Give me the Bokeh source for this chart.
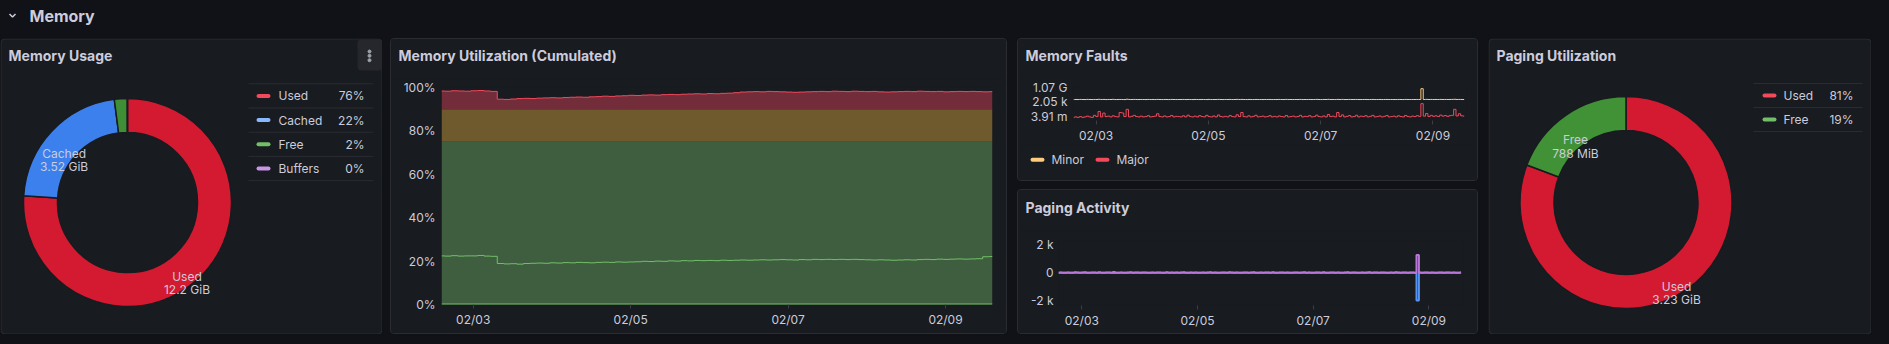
import numpy as np
import pandas as pd
from bokeh.plotting import figure
from bokeh.models import (Range1d, FixedTicker, DaysTicker, DatetimeTickFormatter,
                          PrintfTickFormatter, Spacer)
from bokeh.layouts import row, column
from bokeh.core.properties import value
from bokeh.embed import file_html
from bokeh.resources import INLINE

# ------------------------------------------------------------------ data
section_title = "Memory"

usage_title = "Memory Usage"
usage_names = ["Used", "Cached", "Free", "Buffers"]
usage_gib = [12.2, 3.52, 0.32, 0.005]

paging_util_title = "Paging Utilization"
paging_names = ["Used", "Free"]
paging_gib = [3.23, 0.7695]

time_start = "2025-02-02 14:20"
time_end = "2025-02-09 14:20"

util_title = "Memory Utilization (Cumulated)"
util_thresholds = [0, 75, 90, 100]
util_ticks = [0, 20, 40, 60, 80, 100]
buffers_pct = [
    0.1, 0.1, 0.1, 0.1, 0.1, 0.1, 0.1, 0.1, 0.1, 0.1,
    0.1, 0.1, 0.1, 0.1, 0.1, 0.1, 0.1, 0.1, 0.1, 0.1,
    0.1, 0.1, 0.1, 0.1, 0.1, 0.1, 0.1, 0.1, 0.1, 0.1,
    0.1, 0.1, 0.1, 0.1, 0.1, 0.1, 0.1, 0.1, 0.1, 0.1,
    0.1, 0.1, 0.1, 0.1, 0.1, 0.1, 0.1, 0.1, 0.1, 0.1,
    0.1, 0.1, 0.1, 0.1, 0.1, 0.1, 0.1, 0.1, 0.1, 0.1,
    0.1, 0.1, 0.1, 0.1, 0.1, 0.1, 0.1, 0.1, 0.1, 0.1,
    0.1, 0.1, 0.1, 0.1, 0.1, 0.1, 0.1, 0.1, 0.1, 0.1,
    0.1, 0.1, 0.1, 0.1, 0.1,
]
cached_pct = [
    22.4, 22.3, 22.5, 22.3, 22.4, 22.4, 22.6, 22.3, 22.2, 18.9,
    18.7, 18.8, 18.6, 18.9, 19.0, 19.1, 19.0, 19.2, 19.1, 19.3,
    19.2, 19.4, 19.3, 19.2, 19.4, 19.5, 19.4, 19.6, 19.5, 19.6,
    19.7, 19.9, 19.8, 20.0, 19.9, 20.1, 20.0, 20.2, 20.1, 20.3,
    20.2, 20.3, 20.2, 20.4, 20.3, 20.4, 20.5, 20.4, 20.5, 20.6,
    20.5, 20.6, 20.7, 20.6, 20.5, 20.7, 20.6, 20.8, 20.7, 20.8,
    20.7, 20.8, 20.7, 20.8, 20.7, 20.6, 20.5, 20.6, 20.5, 20.4,
    20.5, 20.6, 20.5, 20.7, 20.8, 20.7, 20.9, 20.8, 20.9, 21.0,
    20.9, 21.0, 21.1, 22.0, 22.1,
]
used_stacked_pct = [
    98.4, 98.3, 98.5, 98.4, 98.3, 98.5, 98.6, 98.4, 98.2, 94.6,
    94.5, 94.7, 94.9, 95.0, 94.9, 95.1, 95.2, 95.3, 95.2, 95.4,
    95.5, 95.6, 95.5, 95.7, 95.8, 96.0, 95.9, 96.1, 96.2, 96.4,
    96.3, 96.5, 96.6, 96.5, 96.7, 96.8, 96.7, 96.9, 97.0, 97.1,
    97.0, 97.2, 97.1, 97.3, 97.4, 97.6, 97.9, 98.0, 98.1, 98.0,
    98.2, 98.1, 98.0, 97.9, 97.8, 97.9, 98.0, 98.1, 98.2, 98.1,
    98.3, 98.2, 98.1, 98.3, 98.2, 98.1, 98.2, 98.0, 97.9, 98.0,
    98.1, 98.2, 98.1, 98.3, 98.2, 98.1, 98.2, 98.0, 98.1, 98.2,
    98.1, 98.2, 98.1, 98.0, 98.1,
]

faults_title = "Memory Faults"
faults_names = ["Minor", "Major"]
minor_faults = [
    15200, 16800, 15900, 17400, 16100, 15600, 18200, 16500, 15800, 17100, 16300, 19400,
    16000, 17700, 15500, 16900, 16200, 18800, 15700, 16600, 17300, 16100, 15400, 21000,
    16400, 15900, 17600, 16200, 15800, 16900, 16300, 15600, 17200, 16000, 16700, 15900,
    17800, 16300, 15700, 16800, 16100, 15500, 17400, 16200, 15900, 16600, 16000, 17100,
    15800, 16900, 16200, 15600, 17300, 16100, 15900, 16700, 16300, 15700, 17500, 16000,
    16400, 15800, 17900, 16200, 15600, 16800, 16100, 17200, 15900, 16300, 18400, 16000,
    17600, 16200, 15700, 16900, 16000, 15800, 17300, 16100, 16500, 15900, 16800, 16200,
    17000, 15800, 16400, 16000, 17200, 16300, 15700, 17800, 16100, 16600, 15900, 16300,
    16100, 17400, 15900, 16500, 16200, 17000, 15800, 16300, 18100, 16000, 15700, 16900,
    16200, 18600, 16000, 16700, 15900, 17600, 16300, 17900, 15800, 16400, 17200, 16100,
    16500, 17300, 15900, 16600, 16200, 17100, 15800, 16400, 17500, 16000, 16300, 16900,
    15900, 16400, 17200, 16100, 16600, 16000, 15800, 17000, 16300, 15900, 17400, 16200,
    16000, 16700, 16300, 17100, 16400, 250000000, 16800, 18200, 16300, 17300, 16500, 16900,
    16400, 17800, 16600, 17200, 16500, 17000, 17600, 19800, 16900, 17400, 16800, 16600,
]
major_faults = [
    0.002, 0.003, 0.002, 0.004, 0.002, 0.003, 0.006, 0.003, 0.002, 0.012, 0.004, 0.38,
    0.003, 0.09, 0.004, 0.006, 0.003, 0.008, 0.004, 0.003, 0.15, 0.10, 0.004, 2.5,
    0.003, 0.005, 0.012, 0.004, 0.003, 0.006, 0.003, 0.004, 0.009, 0.003, 0.004, 0.006,
    0.05, 0.004, 0.003, 0.007, 0.003, 0.004, 0.011, 0.003, 0.005, 0.004, 0.003, 0.008,
    0.003, 0.014, 0.004, 0.003, 0.006, 0.003, 0.009, 0.004, 0.003, 0.012, 0.004, 0.003,
    0.007, 0.003, 0.016, 0.004, 0.003, 0.005, 0.003, 0.010, 0.004, 0.003, 0.020, 0.004,
    0.15, 0.004, 0.003, 0.008, 0.003, 0.005, 0.013, 0.003, 0.004, 0.006, 0.003, 0.004,
    0.009, 0.003, 0.005, 0.003, 0.007, 0.004, 0.003, 0.011, 0.003, 0.004, 0.006, 0.003,
    0.004, 0.012, 0.003, 0.005, 0.004, 0.009, 0.003, 0.004, 0.014, 0.004, 0.003, 0.007,
    0.003, 0.025, 0.004, 0.006, 0.003, 0.15, 0.004, 0.018, 0.003, 0.005, 0.010, 0.003,
    0.004, 0.013, 0.003, 0.006, 0.004, 0.009, 0.003, 0.005, 0.012, 0.003, 0.004, 0.007,
    0.003, 0.005, 0.010, 0.003, 0.004, 0.006, 0.003, 0.008, 0.004, 0.003, 0.011, 0.004,
    0.003, 0.006, 0.004, 0.009, 0.005, 400.0, 0.006, 0.06, 0.004, 0.012, 0.005, 0.008,
    0.004, 0.015, 0.006, 0.010, 0.005, 0.009, 0.012, 2.6, 0.007, 0.05, 0.008, 0.006,
]
fault_ticks = [2 ** -8, 2 ** 11, 2 ** 30]
fault_tick_labels = ["3.91 m", "2.05 k", "1.07 G"]

activity_title = "Paging Activity"
page_in = [
    0, 12, 4, 0, 20, 6, 0, 35, 8, 0, 15, 42,
    5, 0, 18, 7, 0, 26, 3, 0, 14, 9, 0, 55,
    6, 0, 22, 4, 0, 11, 30, 0, 7, 16, 0, 9,
    24, 0, 5, 13, 0, 8, 19, 0, 6, 28, 0, 10,
    4, 17, 0, 9, 33, 0, 6, 12, 0, 21, 5, 0,
    14, 0, 8, 26, 0, 11, 4, 0, 18, 7, 0, 31,
    9, 0, 15, 5, 0, 22, 8, 0, 12, 40, 0, 6,
    19, 0, 7, 13, 0, 27, 5, 0, 16, 9, 0, 24,
    6, 0, 20, 11, 0, 8, 34, 0, 13, 5, 0, 17,
    10, 0, 29, 6, 0, 15, 9, 0, 22, 4, 0, 12,
    25, 0, 8, 14, 0, 6, 19, 0, 11, 30, 0, 7,
    16, 0, 9, 21, 0, 5, 13, 0, 27, 8, 0, 18,
    7, 0, 12, 24, 0, 1270, 15, 0, 9, 20, 0, 11,
    6, 0, 17, 10, 0, 23, 8, 0, 14, 5, 0, 19,
]
page_out = [
    0, 0, 3, 0, 0, 0, 5, 0, 0, 0, 0, 8,
    0, 0, 0, 4, 0, 0, 0, 0, 6, 0, 0, 12,
    0, 0, 0, 0, 3, 0, 0, 0, 0, 5, 0, 0,
    7, 0, 0, 0, 0, 0, 4, 0, 0, 0, 0, 0,
    0, 5, 0, 0, 0, 9, 0, 0, 0, 0, 3, 0,
    0, 0, 0, 6, 0, 0, 0, 0, 0, 4, 0, 0,
    0, 0, 5, 0, 0, 0, 0, 7, 0, 0, 0, 0,
    3, 0, 0, 0, 0, 8, 0, 0, 0, 0, 0, 4,
    0, 0, 0, 5, 0, 0, 0, 0, 6, 0, 0, 0,
    0, 4, 0, 0, 0, 0, 0, 9, 0, 0, 0, 0,
    0, 0, 3, 0, 0, 0, 6, 0, 0, 0, 0, 5,
    0, 0, 0, 0, 7, 0, 0, 0, 0, 4, 0, 0,
    0, 0, 0, 0, 5, 2000, 0, 0, 0, 0, 6, 0,
    0, 0, 4, 0, 0, 0, 0, 0, 8, 0, 0, 0,
]
activity_ticks = [-2000, 0, 2000]
activity_tick_labels = ["-2 k", "0", "2 k"]

# ------------------------------------------------------------------ style
PAGE_BG = "#111217"
PANEL_BG = "#181b1f"
BORDER = "#2a2c32"
TEXT = "#ccccdc"
TICK = "#3a3d44"
FONT = "Inter"

usage_slice_colors = ["#D41A31", "#3C80EE", "#3F8F37", "#B877D9"]
usage_legend_colors = ["#F2495C", "#8AB8FF", "#73BF69", "#CA95E5"]
paging_slice_colors = ["#D41A31", "#419137"]
paging_legend_colors = ["#F2495C", "#73BF69"]
band_colors = ["#3e5e3f", "#6e5a2c", "#722c3a"]
fault_colors = ["#FFCB7D", "#F2495C"]

times_2h = pd.date_range(time_start, periods=len(cached_pct), freq="2h")
times_1h = pd.date_range(time_start, periods=len(major_faults), freq="h")


def fmt_size(gib):
    if gib >= 1:
        return f"{gib:.3g} GiB"
    return f"{gib * 1024:.3g} MiB"


def pixel_fig(w, h, bg=PAGE_BG):
    p = figure(width=w, height=h, x_range=Range1d(0, w), y_range=Range1d(h, 0),
               min_border=0, toolbar_location=None, output_backend="svg",
               x_axis_location=None, y_axis_location=None, frame_align=False)
    p.grid.visible = False
    p.outline_line_color = None
    p.background_fill_color = bg
    p.border_fill_color = bg
    return p


def txt(p, x, y, t, size="12px", align="left", bold=False):
    p.text(x=x, y=y, text=t, text_font=value(FONT), text_font_size=size,
           text_font_style="bold" if bold else "normal", text_color=TEXT,
           text_align=align, text_baseline="middle")


def pie_panel(title, names, vals, slice_cols, leg_cols, w, h, cx, cy, r_out, r_in, leg):
    p = pixel_fig(w, h)
    p.quad(left=[0.5], right=[w - 0.5], top=[0.5], bottom=[h - 0.5],
           fill_color=PANEL_BG, line_color=BORDER, line_width=1, border_radius=4)
    txt(p, [8], [17], [title], size="14px", bold=True)

    v = np.asarray(vals, dtype=float)
    frac = v / v.sum()
    cum = np.concatenate([[0.0], np.cumsum(frac)])
    start = np.pi / 2 - cum[1:] * 2 * np.pi
    end = np.pi / 2 - cum[:-1] * 2 * np.pi
    p.annular_wedge(x=cx, y=cy, inner_radius=r_in, outer_radius=r_out,
                    start_angle=start, end_angle=end, fill_color=slice_cols,
                    line_color=PANEL_BG, line_width=1.5)

    mid = (start + end) / 2
    rm = (r_in + r_out) / 2
    lx = cx + rm * np.cos(mid)
    ly = cy - rm * np.sin(mid)
    show = [i for i in range(len(v)) if frac[i] > 0.05]
    txt(p, lx[show], ly[show] + 10.5, [names[i] for i in show], align="center")
    txt(p, lx[show], ly[show] + 24, [fmt_size(v[i]) for i in show], align="center")

    x0, x1, top, rh, sw0, lab_x, pct_x = leg
    n = len(names)
    ys = top + rh * np.arange(n + 1)
    p.segment(x0=x0, x1=x1, y0=ys, y1=ys, line_color=BORDER, line_width=1)
    yc = top + rh * (np.arange(n) + 0.5)
    p.segment(x0=sw0 + 2, x1=sw0 + 12, y0=yc, y1=yc, line_color=leg_cols,
              line_width=4, line_cap="round")
    txt(p, lab_x, yc, names)
    txt(p, pct_x, yc, [f"{round(f * 100)}%" for f in frac], align="right")
    return p


def title_fig(w, h, title, yc):
    p = pixel_fig(w, h, PANEL_BG)
    txt(p, [7], [yc], [title], size="14px", bold=True)
    return p


def ts_chart(w, h, bl, br, bt, bb, y_range, y_type="linear", ylab_standoff=6):
    p = figure(width=w, height=h, x_axis_type="datetime", y_axis_type=y_type,
               x_range=Range1d(pd.Timestamp(time_start), pd.Timestamp(time_end)),
               y_range=y_range, min_border_left=bl, min_border_right=br,
               min_border_top=bt, min_border_bottom=bb,
               toolbar_location=None, output_backend="svg", frame_align=False)
    p.background_fill_color = PANEL_BG
    p.border_fill_color = PANEL_BG
    p.outline_line_color = None
    p.grid.visible = False
    for ax in p.xaxis:
        ax.ticker = DaysTicker(days=list(range(1, 32, 2)))
        ax.formatter = DatetimeTickFormatter(days="%m/%d")
        ax.axis_line_color = None
        ax.major_tick_line_color = TICK
        ax.major_tick_out = 4
        ax.major_tick_in = 0
        ax.minor_tick_line_color = None
        ax.major_label_standoff = 3
    for ax in p.yaxis:
        ax.axis_line_color = None
        ax.major_tick_line_color = None
        ax.major_tick_out = 0
        ax.major_tick_in = 0
        ax.minor_tick_line_color = None
        ax.major_label_standoff = ylab_standoff
    for ax in p.xaxis + p.yaxis:
        ax.major_label_text_font = FONT
        ax.major_label_text_font_size = "12px"
        ax.major_label_text_color = TEXT
    return p


PANEL_CSS = {"border": f"1px solid {BORDER}", "border-radius": "4px",
             "overflow": "hidden", "background-color": PANEL_BG}

# ------------------------------------------------------------------ header
hdr = pixel_fig(1889, 38)
hdr.line(x=[9, 12, 15], y=[13.5, 16.5, 13.5], line_color=TEXT, line_width=1.5)
txt(hdr, [29], [15], [section_title], size="16px", bold=True)

# ------------------------------------------------------------------ panel 1
p1 = pie_panel(usage_title, usage_names, usage_gib, usage_slice_colors, usage_legend_colors,
               382, 296, 127, 164, 104, 70, (248, 373, 45.3, 24.2, 256, 278, 364))
p1.quad(left=[357], right=[381.5], top=[1], bottom=[32], fill_color="#25272d",
        line_color=None, border_radius=4)
p1.scatter(x=[369, 369, 369], y=[13, 17.3, 21.7], size=3, color="#9fa1a8")

# ------------------------------------------------------------------ panel 2
c2 = ts_chart(615, 254, 50, 14, 8, 29, Range1d(0, 100), ylab_standoff=6)
top_line = np.asarray(used_stacked_pct)
for lo, hi, c in zip(util_thresholds[:-1], util_thresholds[1:], band_colors):
    c2.varea_step(x=times_2h, y1=lo, y2=np.clip(top_line, lo, hi), step_mode="center",
                  fill_color=c)
c2.step(times_2h, buffers_pct, mode="center", line_color="#73BF69", line_width=1.5)
c2.step(times_2h, cached_pct, mode="center", line_color="#73BF69", line_width=1)
c2.step(times_2h, used_stacked_pct, mode="center", line_color="#F2495C", line_width=1)
c2.yaxis[0].ticker = FixedTicker(ticks=util_ticks)
c2.yaxis[0].formatter = PrintfTickFormatter(format="%d%%")
panel2 = column(title_fig(615, 40, util_title, 16), c2, styles=PANEL_CSS)

# ------------------------------------------------------------------ panel 3
c3 = ts_chart(459, 68, 55, 11, 8, 23, Range1d(2 ** -13, 2 ** 32), y_type="log", ylab_standoff=6)
c3.step(times_1h, minor_faults, mode="center", line_color=fault_colors[0], line_width=1)
c3.step(times_1h, major_faults, mode="center", line_color=fault_colors[1], line_width=1)
c3.yaxis[0].ticker = FixedTicker(ticks=fault_ticks)
c3.yaxis[0].major_label_overrides = dict(zip(fault_ticks, fault_tick_labels))
leg3 = pixel_fig(459, 35, PANEL_BG)
item_x = 12 + 65 * np.arange(len(faults_names))
leg3.segment(x0=item_x + 2, x1=item_x + 12, y0=14.3, y1=14.3, line_color=fault_colors,
             line_width=4, line_cap="round")
txt(leg3, item_x + 21, [14.3] * len(faults_names), faults_names)
panel3 = column(title_fig(459, 38, faults_title, 16), c3, leg3, styles=PANEL_CSS)

# ------------------------------------------------------------------ panel 4
c4 = ts_chart(459, 103, 40, 14, 10, 28, Range1d(-2350, 2310), ylab_standoff=5)
c4.step(times_1h, -np.asarray(page_out), mode="center", line_color="#5794F2", line_width=2)
c4.step(times_1h, page_in, mode="center", line_color="#B877D9", line_width=2)
c4.yaxis[0].ticker = FixedTicker(ticks=activity_ticks)
c4.yaxis[0].major_label_overrides = dict(zip(activity_ticks, activity_tick_labels))
panel4 = column(title_fig(459, 40, activity_title, 17), c4, styles=PANEL_CSS)

# ------------------------------------------------------------------ panel 5
p5 = pie_panel(paging_util_title, paging_names, paging_gib, paging_slice_colors,
               paging_legend_colors, 383, 296, 137.5, 164, 106, 72,
               (265, 374, 45, 24, 274, 295, 365))

# ------------------------------------------------------------------ layout
BG = {"background-color": PAGE_BG}
col34 = column(panel3, Spacer(width=461, height=8, styles=BG), panel4, styles=BG)
main = row(p1, Spacer(width=8, height=296, styles=BG), panel2,
           Spacer(width=10, height=296, styles=BG), col34,
           Spacer(width=10, height=296, styles=BG), p5,
           Spacer(width=18, height=296, styles=BG), styles=BG)
root = column(hdr, main, Spacer(width=1889, height=10, styles=BG), styles=BG)

open("out.html", "w").write(file_html(root, INLINE))
